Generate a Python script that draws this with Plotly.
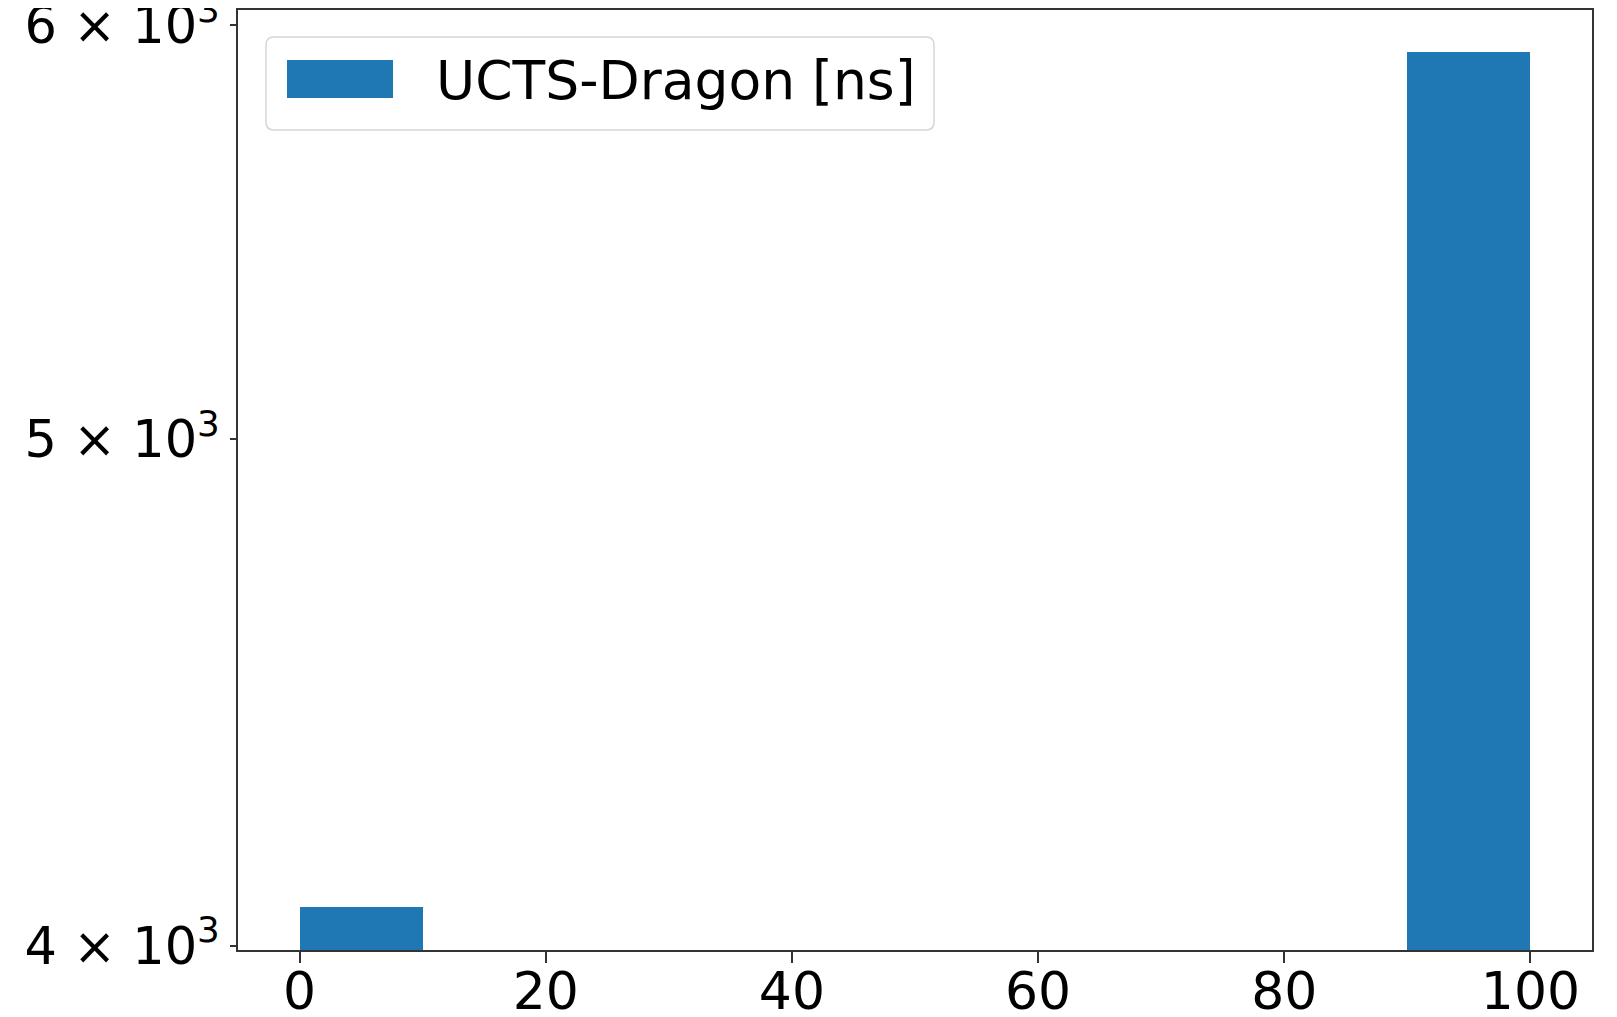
import math
import plotly.graph_objects as go

# Histogram bins (edges 0..100, width 10) and counts
bin_centers = [5, 15, 25, 35, 45, 55, 65, 75, 85, 95]
counts = [4070, None, None, None, None, None, None, None, None, 5930]
series_name = "UCTS-Dragon [ns]"

x_ticks = [0, 20, 40, 60, 80, 100]
y_ticks = [4000, 5000, 6000]
y_tick_text = ["4 × 10<sup>3</sup>", "5 × 10<sup>3</sup>", "6 × 10<sup>3</sup>"]

BAR_COLOR = "#1f77b4"
FONT = "DejaVu Sans"

# The page body has an 8px default margin, so the figure is drawn 8px in.
OFF = 8
W, H = 1617 - OFF, 1017 - OFF
L, T = 238 - OFF, 10 - OFF
R = W - (1592 - OFF)
B = H - (950 - OFF)
PW, PH = W - L - R, H - T - B


def px_x(px):
    return (px - OFF - L) / PW


def px_y(py):
    return (H - B - (py - OFF)) / PH


fig = go.Figure()
fig.add_trace(go.Bar(
    x=bin_centers, y=counts, width=10,
    marker=dict(color=BAR_COLOR, line=dict(width=0)),
    name=series_name, showlegend=False,
))

# Manual legend (matplotlib style: rounded box, wide patch)
bx0, bx1, by0, by1, r = 266, 934, 37, 130, 8
rx, ry = r / PW, r / PH
X0, X1, Y0, Y1 = px_x(bx0), px_x(bx1), px_y(by1), px_y(by0)
path = (
    f"M {X0+rx},{Y1} L {X1-rx},{Y1} Q {X1},{Y1} {X1},{Y1-ry} "
    f"L {X1},{Y0+ry} Q {X1},{Y0} {X1-rx},{Y0} "
    f"L {X0+rx},{Y0} Q {X0},{Y0} {X0},{Y0+ry} "
    f"L {X0},{Y1-ry} Q {X0},{Y1} {X0+rx},{Y1} Z"
)
shapes = [
    dict(type="path", xref="paper", yref="paper", path=path,
         fillcolor="rgba(255,255,255,0.8)", line=dict(color="#d6d6d6", width=1.5)),
    dict(type="rect", xref="paper", yref="paper",
         x0=px_x(287), x1=px_x(393), y0=px_y(98), y1=px_y(60),
         fillcolor=BAR_COLOR, line=dict(width=0)),
]
annotations = [
    dict(xref="paper", yref="paper", x=px_x(434), y=px_y(80),
         xanchor="left", yanchor="middle", showarrow=False,
         text=series_name, font=dict(family=FONT, size=53.5, color="black")),
]

fig.update_layout(
    width=W, height=H,
    margin=dict(l=L, r=R, t=T, b=B, pad=0),
    paper_bgcolor="white", plot_bgcolor="white",
    font=dict(family=FONT, size=50, color="black"),
    bargap=0,
    showlegend=False,
    shapes=shapes,
    annotations=annotations,
    xaxis=dict(
        range=[-5, 105], tickvals=x_ticks, ticks="outside", ticklen=11, tickwidth=2,
        tickcolor="#333", showline=True, linecolor="#333", linewidth=2, mirror=True,
        showgrid=False, zeroline=False, tickfont=dict(size=52), automargin=False,
        ticklabeloverflow="allow", ticklabelstandoff=-16,
    ),
    yaxis=dict(
        type="log", range=[math.log10(3993), math.log10(6040)],
        tickvals=y_ticks, ticktext=y_tick_text, ticks="outside", ticklen=6, tickwidth=2,
        tickcolor="#333", showline=True, linecolor="#333", linewidth=2, mirror=True,
        showgrid=False, zeroline=False, tickfont=dict(size=51), automargin=False,
        ticklabeloverflow="allow",
    ),
)

fig.write_html("out.html")
